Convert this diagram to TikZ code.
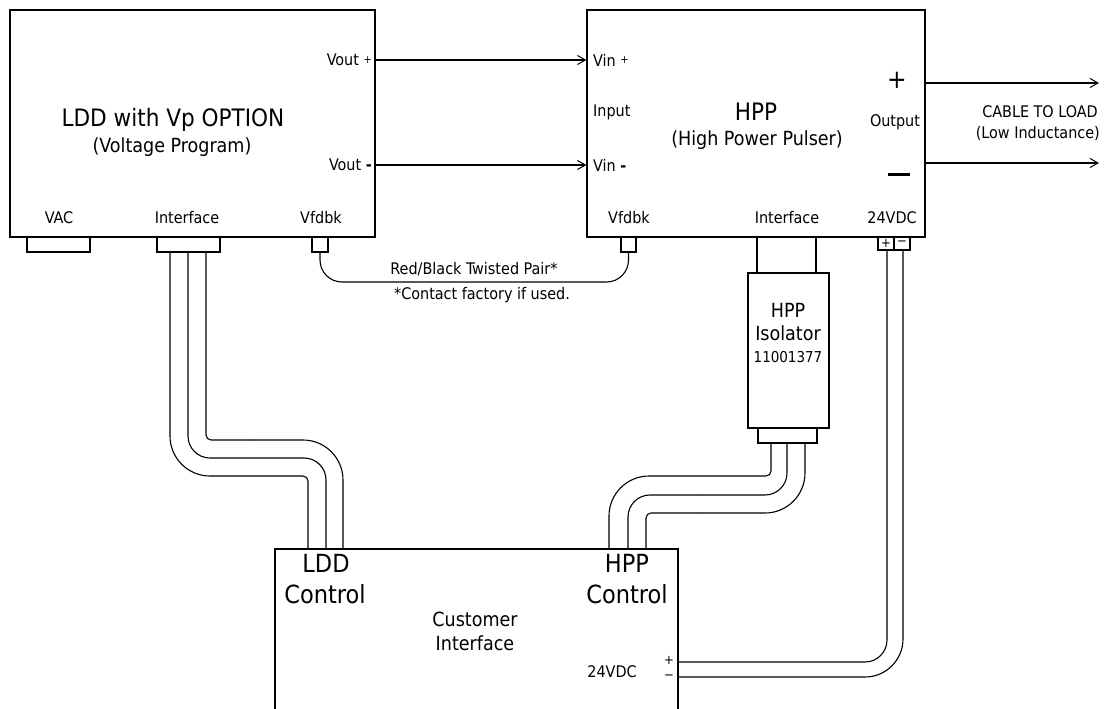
\documentclass[tikz,border=0pt]{standalone}
\usepackage{fontspec}
\setmainfont{DejaVu Sans Condensed}
\usetikzlibrary{arrows.meta}
\newcommand{\fs}[1]{\fontsize{#1}{#1}\selectfont}
\newcommand{\smallplus}{\raisebox{0.25ex}{\fs{11}+}}
\tikzset{
  box/.style={draw, line width=1.1pt, inner sep=0pt, minimum width=#1},
  wire/.style={line width=1.1pt},
  arr/.style={line width=1.1pt, -{Straight Barb[length=8pt,width=9pt,line width=1pt]}},
  lbl/.style={inner sep=0pt, font=\fs{16}},
  big/.style={inner sep=0pt, font=\fs{24}},
  mid/.style={inner sep=0pt, font=\fs{19.5}},
  ctl/.style={inner sep=0pt, font=\fs{25}},
}
\begin{document}
\begin{tikzpicture}[x=1pt,y=-1pt]
\useasboundingbox (0,0) rectangle (1105,709);
% main boxes
\node[box=365pt, minimum height=227pt] (ldd) at (192.5,123.5) {};
\node[box=338pt, minimum height=227pt] (hpp) at (756,123.5) {};
\node[box=81pt, minimum height=155pt] (iso) at (788.5,350.5) {};
\node[box=59pt, minimum height=15pt] (isoc) at (787.5,435.5) {};
\node[box=403pt, minimum height=200pt] (cust) at (476.5,649) {};
% small connectors
\node[box=63pt, minimum height=15pt] (vac) at (58.5,244.5) {};
\node[box=63pt, minimum height=15pt] (lif) at (188.5,244.5) {};
\node[box=16pt, minimum height=15pt] (lfb) at (320,244.5) {};
\node[box=15pt, minimum height=15pt] (hfb) at (628.5,244.5) {};
\node[box=16pt, minimum height=13pt, font=\fs{13}] (pp) at (886,243.5) {+};
\node[box=16pt, minimum height=13pt, font=\fs{13}] (pm) at (902,243.5) {−};
% LDD texts
\node[big] (t1) at (173,120) {LDD with Vp OPTION};
\node[mid] (t2) at (172,147) {(Voltage Program)};
\node[lbl, anchor=east] (vop) at (372,60) {Vout \smallplus};
\node[lbl, anchor=east] (vom) at (372,165) {Vout \textbf{-}};
\node[lbl] (tvac) at (59,218) {VAC};
\node[lbl] (tlif) at (187,218) {Interface};
\node[lbl] (tlfb) at (321,218) {Vfdbk};
% HPP texts
\node[lbl, anchor=west] (vip) at (593,60) {Vin \smallplus};
\node[lbl, anchor=west] (tin) at (593,112) {Input};
\node[lbl, anchor=west] (vim) at (593,165) {Vin \textbf{-}};
\node[big] (h1) at (756,112) {HPP};
\node[mid] (h2) at (757,140) {(High Power Pulser)};
\node[inner sep=0pt, font=\fs{26}] (hplus) at (897,80) {+};
\node[lbl] (tout) at (895,122) {Output};
\node[inner sep=0pt] (hminus) at (899,174) {\rule{22pt}{3pt}};
\node[lbl] (hfbt) at (629,218) {Vfdbk};
\node[lbl] (hift) at (787,218) {Interface};
\node[lbl] (h24) at (892,218) {24VDC};
\node[lbl, anchor=east] (cab1) at (1098,112) {CABLE TO LOAD};
\node[lbl, anchor=east] (cab2) at (1100,133) {(Low Inductance)};
% isolator text
\node[mid] (isot1) at (788,310) {HPP};
\node[mid] (isot2) at (788,333) {Isolator};
\node[lbl, font=\fs{15}] (ison) at (788,357) {11001377};
% twisted pair text
\node[lbl] (tp1) at (474,269) {Red/Black Twisted Pair*};
\node[lbl] (tp2) at (482,295) {*Contact factory if used.};
% customer texts
\node[ctl] (lc1) at (326,563) {LDD};
\node[ctl] (lc2) at (325,594) {Control};
\node[ctl] (hc1) at (627,563) {HPP};
\node[ctl] (hc2) at (627,594) {Control};
\node[mid] (ct1) at (475,619) {Customer};
\node[mid] (ct2) at (475,643) {Interface};
\node[lbl] (c24) at (612,672) {24VDC};
\node[inner sep=0pt, font=\fs{13}] (cp) at (669,660) {+};
\node[inner sep=0pt, font=\fs{13}] (cm) at (669,677) {−};
% arrows
\draw[arr] (ldd.east |- 0,60) -- (hpp.west |- 0,60);
\draw[arr] (ldd.east |- 0,165) -- (hpp.west |- 0,165);
\coordinate (lo1) at (1099,83);
\coordinate (lo2) at (1099,163);
\draw[arr] (hpp.east |- lo1) -- (lo1);
\draw[arr] (hpp.east |- lo2) -- (lo2);
% twisted pair
\draw[wire, rounded corners=22pt] (lfb.south) |- (480,282) -| (hfb.south);
% HPP interface to isolator
\draw[wire] (hpp.south -| 757,0) -- (iso.north -| 757,0);
\draw[wire] (hpp.south -| 816,0) -- (iso.north -| 816,0);
% LDD interface cable
\draw[wire, rounded corners=40pt] (lif.south -| 170,0) |- (250,476);
\draw[wire, rounded corners=5pt] (250,476) -| (cust.north -| 308,0);
\draw[wire, rounded corners=22pt] (lif.south -| 188,0) |- (250,458);
\draw[wire, rounded corners=22pt] (250,458) -| (cust.north -| 326,0);
\draw[wire, rounded corners=5pt] (lif.south -| 206,0) |- (250,440);
\draw[wire, rounded corners=40pt] (250,440) -| (cust.north -| 343,0);
% isolator cable
\draw[wire, rounded corners=5pt] (isoc.south -| 771,0) |- (700,476);
\draw[wire, rounded corners=40pt] (700,476) -| (cust.north -| 609,0);
\draw[wire, rounded corners=22pt] (isoc.south -| 787,0) |- (700,495);
\draw[wire, rounded corners=22pt] (700,495) -| (cust.north -| 628,0);
\draw[wire, rounded corners=40pt] (isoc.south -| 805,0) |- (700,513);
\draw[wire, rounded corners=5pt] (700,513) -| (cust.north -| 646,0);
% 24VDC
\draw[wire, rounded corners=22pt] (pp.south -| 887,0) |- (cust.east |- 0,662);
\draw[wire, rounded corners=38pt] (pm.south -| 903,0) |- (cust.east |- 0,677);
\end{tikzpicture}
\end{document}
